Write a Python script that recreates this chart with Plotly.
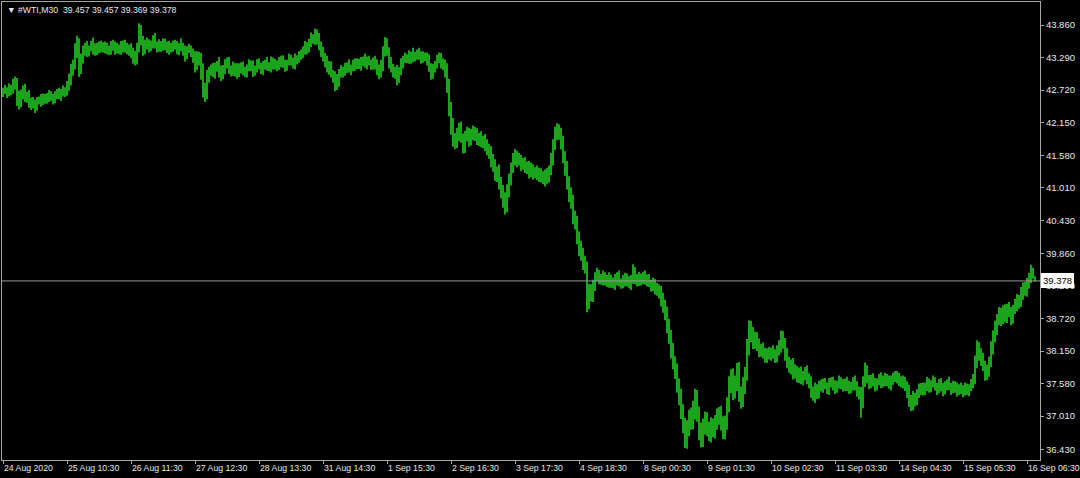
import plotly.graph_objects as go

# ---------------- data ----------------
symbol_header = "▼ #WTI,M30  39.457 39.457 39.369 39.378"
last_price = 39.378
first_open = 42.68

closes = [
    42.70, 42.72, 42.68, 42.74, 42.71, 42.80, 42.88, 42.62, 42.50, 42.66,
    42.72, 42.58, 42.64, 42.52, 42.47, 42.50, 42.44, 42.52, 42.55, 42.53,
    42.58, 42.60, 42.56, 42.62, 42.60, 42.57, 42.63, 42.66, 42.61, 42.68,
    42.72, 42.70, 42.78, 42.90, 43.05, 43.15, 43.40, 43.55, 43.10, 43.25,
    43.42, 43.48, 43.38, 43.45, 43.50, 43.44, 43.40, 43.47, 43.52, 43.46,
    43.43, 43.49, 43.45, 43.41, 43.46, 43.50, 43.44, 43.47, 43.42, 43.48,
    43.52, 43.45, 43.40, 43.47, 43.38, 43.30, 43.25, 43.45, 43.78, 43.60,
    43.40, 43.50, 43.56, 43.48, 43.52, 43.58, 43.50, 43.46, 43.53, 43.49,
    43.55, 43.47, 43.44, 43.50, 43.46, 43.52, 43.48, 43.43, 43.47, 43.50,
    43.40, 43.33, 43.42, 43.45, 43.38, 43.30, 43.15, 43.32, 43.25, 43.05,
    42.75, 42.70, 42.95, 43.05, 43.10, 43.02, 43.12, 43.18, 43.05, 42.98,
    43.08, 43.15, 43.22, 43.10, 43.04, 43.12, 43.06, 43.00, 43.09, 43.14,
    43.08, 43.02, 43.10, 43.16, 43.12, 43.05, 43.10, 43.18, 43.13, 43.08,
    43.15, 43.20, 43.14, 43.10, 43.18, 43.22, 43.16, 43.12, 43.20, 43.25,
    43.18, 43.14, 43.20, 43.26, 43.22, 43.18, 43.24, 43.28, 43.30, 43.35,
    43.42, 43.48, 43.45, 43.55, 43.62, 43.58, 43.70, 43.62, 43.50, 43.40,
    43.30, 43.22, 43.10, 43.15, 43.02, 42.95, 42.82, 42.92, 43.02, 43.08,
    43.04, 43.10, 43.14, 43.08, 43.12, 43.18, 43.14, 43.20, 43.16, 43.22,
    43.26, 43.18, 43.24, 43.20, 43.15, 43.22, 43.18, 43.10, 43.02, 43.15,
    43.38, 43.55, 43.40, 43.20, 43.10, 43.02, 43.08, 42.92, 43.05, 43.18,
    43.25, 43.30, 43.26, 43.32, 43.28, 43.34, 43.30, 43.36, 43.32, 43.28,
    43.33, 43.30, 43.25, 43.12, 43.02, 43.10, 43.18, 43.24, 43.30, 43.20,
    43.15, 43.05, 42.80, 42.40, 42.10, 41.85, 41.80, 41.95, 42.05, 41.88,
    41.72, 41.90, 41.98, 41.85, 41.92, 42.00, 41.94, 41.86, 41.90, 41.80,
    41.84, 41.76, 41.70, 41.62, 41.50, 41.40, 41.25, 41.30, 41.10, 40.95,
    40.80, 40.70, 40.95, 41.15, 41.35, 41.50, 41.58, 41.48, 41.52, 41.40,
    41.45, 41.35, 41.40, 41.28, 41.34, 41.25, 41.30, 41.22, 41.28, 41.20,
    41.15, 41.25, 41.18, 41.30, 41.50, 41.75, 41.95, 42.02, 41.95, 41.80,
    41.55, 41.35, 41.10, 40.90, 40.75, 40.50, 40.40, 40.15, 39.95, 39.85,
    39.70, 39.62, 39.00, 39.20, 39.15, 39.30, 39.45, 39.50, 39.42, 39.38,
    39.46, 39.40, 39.34, 39.42, 39.36, 39.30, 39.40, 39.48, 39.35, 39.32,
    39.38, 39.44, 39.36, 39.30, 39.40, 39.55, 39.42, 39.36, 39.44, 39.40,
    39.46, 39.38, 39.42, 39.35, 39.30, 39.34, 39.26, 39.22, 39.18, 39.05,
    38.95, 38.80, 38.60, 38.40, 38.15, 37.95, 37.80, 37.55, 37.35, 37.10,
    36.85, 36.60, 36.80, 37.00, 36.90, 37.10, 37.35, 37.05, 36.75, 36.60,
    36.85, 36.95, 36.80, 36.70, 36.85, 36.78, 36.90, 37.00, 37.05, 36.88,
    36.75, 36.90, 37.20, 37.55, 37.70, 37.45, 37.60, 37.80, 37.40, 37.30,
    37.55, 37.75, 38.20, 38.55, 38.45, 38.30, 38.38, 38.25, 38.15, 38.20,
    38.10, 38.05, 38.12, 38.08, 38.14, 38.10, 38.05, 38.15, 38.22, 38.40,
    38.30, 38.10, 37.95, 37.85, 37.92, 37.75, 37.82, 37.70, 37.78, 37.65,
    37.72, 37.80, 37.68, 37.60, 37.45, 37.38, 37.50, 37.42, 37.55, 37.52,
    37.60, 37.55, 37.48, 37.58, 37.62, 37.54, 37.50, 37.56, 37.64, 37.58,
    37.52, 37.60, 37.55, 37.48, 37.56, 37.62, 37.54, 37.46, 37.40, 37.25,
    37.60, 37.80, 37.65, 37.58, 37.66, 37.60, 37.54, 37.62, 37.68, 37.58,
    37.64, 37.70, 37.62, 37.56, 37.64, 37.70, 37.66, 37.72, 37.64, 37.58,
    37.62, 37.55, 37.45, 37.30, 37.22, 37.35, 37.28, 37.40, 37.48, 37.52,
    37.45, 37.55, 37.60, 37.50, 37.56, 37.62, 37.54, 37.48, 37.58, 37.52,
    37.46, 37.54, 37.60, 37.52, 37.48, 37.55, 37.50, 37.45, 37.52, 37.48,
    37.44, 37.50, 37.46, 37.52, 37.58, 37.65, 37.95, 38.20, 38.10, 38.00,
    37.90, 37.75, 37.80, 37.95, 38.20, 38.40, 38.55, 38.70, 38.80, 38.70,
    38.85, 38.75, 38.90, 38.82, 38.70, 38.88, 38.95, 39.05, 39.00, 39.15,
    39.25, 39.20, 39.35, 39.42, 39.58, 39.457, 39.378,
]

# upper wick (high above the bar body), in cents
upper_wick_cents = [
    6, 9, 5, 10, 7, 12, 8, 5, 9, 7, 8, 11, 5, 8, 7, 10, 5, 8, 6, 10,
    8, 5, 7, 10, 8, 5, 7, 8, 10, 6, 8, 5, 10, 11, 13, 10, 14, 12, 8, 11,
    8, 7, 10, 5, 8, 14, 10, 8, 5, 7, 10, 8, 6, 5, 12, 10, 7, 8, 5, 10,
    7, 8, 10, 5, 7, 8, 11, 10, 11, 8, 7, 10, 8, 5, 7, 10, 14, 7, 8, 5,
    8, 7, 10, 8, 5, 7, 8, 10, 7, 13, 5, 10, 7, 8, 5, 7, 10, 8, 7, 12,
    14, 10, 12, 8, 7, 10, 8, 5, 12, 10, 8, 11, 7, 8, 5, 10, 7, 13, 10, 7,
    8, 5, 7, 10, 8, 12, 5, 8, 10, 7, 8, 5, 10, 7, 13, 7, 5, 8, 10, 7,
    8, 7, 5, 10, 8, 7, 12, 5, 10, 8, 7, 10, 8, 7, 11, 8, 10, 8, 10, 7,
    8, 7, 10, 8, 7, 5, 10, 8, 7, 8, 5, 10, 7, 12, 5, 7, 10, 8, 7, 8,
    5, 10, 7, 8, 5, 7, 10, 8, 7, 10, 11, 10, 8, 7, 10, 8, 5, 8, 7, 10,
    7, 8, 5, 10, 7, 12, 5, 7, 10, 8, 7, 5, 8, 10, 7, 8, 5, 10, 8, 7,
    8, 10, 14, 12, 11, 13, 12, 11, 10, 12, 8, 11, 10, 8, 12, 10, 8, 11, 7, 10,
    8, 11, 10, 8, 12, 10, 11, 8, 12, 10, 11, 13, 12, 11, 10, 12, 11, 8, 10, 7,
    8, 10, 7, 8, 11, 8, 7, 10, 8, 7, 10, 8, 11, 10, 12, 11, 13, 12, 10, 11,
    12, 10, 13, 11, 12, 14, 11, 12, 10, 13, 11, 12, 10, 13, 12, 10, 8, 11, 7, 8,
    10, 7, 8, 11, 7, 8, 10, 5, 8, 7, 10, 8, 7, 10, 8, 12, 7, 8, 10, 7,
    8, 10, 7, 8, 5, 10, 7, 8, 10, 11, 12, 10, 13, 11, 12, 14, 11, 13, 12, 14,
    12, 13, 14, 12, 16, 18, 14, 12, 13, 15, 12, 14, 13, 11, 14, 12, 13, 15, 12, 14,
    13, 12, 14, 16, 13, 15, 12, 14, 16, 13, 14, 12, 16, 14, 13, 12, 11, 10, 12, 8,
    10, 11, 8, 10, 7, 11, 8, 10, 12, 11, 10, 8, 11, 10, 8, 11, 10, 7, 8, 10,
    8, 7, 10, 8, 11, 8, 10, 7, 8, 10, 7, 8, 5, 10, 7, 8, 10, 7, 8, 5,
    8, 7, 10, 8, 5, 7, 10, 8, 7, 12, 11, 15, 10, 8, 7, 10, 8, 5, 7, 10,
    8, 7, 5, 10, 8, 7, 10, 8, 5, 7, 10, 8, 7, 11, 8, 10, 7, 8, 10, 7,
    8, 5, 10, 7, 8, 10, 7, 5, 8, 10, 7, 8, 5, 10, 7, 8, 7, 10, 5, 8,
    7, 10, 8, 5, 8, 10, 12, 14, 11, 10, 12, 8, 11, 10, 12, 11, 13, 10, 12, 11,
    10, 12, 8, 11, 10, 8, 11, 10, 8, 12, 10, 11, 8, 10, 8, 3, 0,
]

# lower wick (low below the bar body), in cents
lower_wick_cents = [
    8, 5, 10, 7, 8, 5, 7, 18, 12, 8, 10, 7, 8, 11, 10, 7, 12, 8, 5, 10,
    7, 10, 8, 5, 7, 10, 8, 7, 5, 8, 7, 10, 8, 7, 10, 8, 7, 12, 15, 10,
    7, 10, 8, 7, 5, 10, 8, 7, 10, 8, 5, 7, 10, 8, 7, 5, 10, 8, 7, 8,
    10, 7, 5, 8, 10, 12, 10, 8, 7, 10, 8, 5, 7, 10, 8, 7, 5, 8, 7, 10,
    8, 5, 7, 10, 8, 7, 5, 8, 10, 7, 8, 11, 7, 5, 8, 10, 12, 8, 10, 15,
    16, 19, 14, 10, 8, 7, 10, 8, 11, 10, 7, 8, 5, 10, 8, 7, 10, 8, 5, 8,
    10, 7, 8, 5, 7, 10, 8, 7, 5, 8, 10, 7, 8, 5, 7, 10, 8, 7, 5, 8,
    7, 10, 8, 5, 7, 8, 10, 7, 8, 5, 7, 8, 10, 7, 8, 5, 7, 10, 8, 10,
    8, 10, 7, 11, 8, 10, 12, 10, 14, 8, 10, 7, 8, 5, 10, 7, 8, 5, 7, 10,
    8, 7, 10, 5, 8, 7, 10, 12, 11, 8, 10, 7, 8, 10, 7, 8, 10, 12, 8, 7,
    8, 5, 7, 8, 10, 7, 8, 5, 7, 10, 8, 7, 10, 8, 12, 10, 7, 8, 5, 10,
    8, 11, 13, 14, 16, 12, 11, 10, 12, 8, 11, 10, 8, 12, 10, 8, 11, 10, 12, 8,
    10, 11, 12, 10, 13, 11, 12, 14, 12, 13, 14, 16, 12, 11, 10, 8, 10, 11, 8, 10,
    7, 8, 10, 11, 8, 10, 7, 8, 11, 10, 8, 12, 10, 8, 7, 10, 8, 11, 10, 12,
    11, 13, 12, 14, 11, 13, 12, 13, 14, 12, 13, 11, 17, 12, 13, 14, 10, 8, 10, 7,
    8, 10, 7, 8, 10, 5, 8, 10, 7, 8, 7, 10, 8, 5, 8, 7, 10, 8, 7, 10,
    8, 7, 10, 8, 11, 10, 12, 10, 11, 12, 13, 11, 14, 12, 13, 12, 14, 13, 15, 14,
    14, 15, 16, 14, 13, 12, 15, 14, 16, 14, 13, 16, 14, 13, 15, 14, 16, 13, 14, 12,
    14, 15, 13, 12, 14, 16, 13, 15, 14, 16, 13, 15, 12, 13, 14, 12, 11, 10, 11, 10,
    8, 10, 11, 8, 10, 8, 11, 10, 8, 10, 11, 12, 10, 8, 11, 10, 8, 10, 11, 8,
    10, 8, 11, 10, 12, 10, 14, 11, 10, 8, 10, 7, 8, 10, 7, 8, 10, 8, 7, 10,
    8, 7, 10, 8, 7, 10, 8, 11, 10, 27, 10, 8, 7, 10, 8, 7, 10, 8, 7, 8,
    7, 10, 8, 7, 10, 8, 5, 8, 10, 7, 8, 10, 12, 13, 12, 11, 10, 8, 7, 10,
    8, 7, 10, 8, 7, 5, 8, 10, 7, 8, 10, 7, 8, 5, 10, 7, 8, 10, 7, 8,
    10, 7, 8, 10, 7, 8, 8, 10, 12, 11, 10, 12, 11, 10, 8, 11, 10, 12, 10, 11,
    8, 10, 11, 8, 10, 7, 8, 10, 11, 8, 10, 8, 10, 11, 8, 4, 0.9,
]

# time-axis labels and the bar each one marks
date_labels = [
    "24 Aug 2020", "25 Aug 10:30", "26 Aug 11:30", "27 Aug 12:30",
    "28 Aug 13:30", "31 Aug 14:30", "1 Sep 15:30", "2 Sep 16:30",
    "3 Sep 17:30", "4 Sep 18:30", "8 Sep 00:30", "9 Sep 01:30",
    "10 Sep 02:30", "11 Sep 03:30", "14 Sep 04:30", "15 Sep 05:30",
    "16 Sep 06:30",
]
date_label_bars = [0, 32, 64, 96, 128, 160, 192, 224, 256, 288, 320,
                   352, 384, 416, 448, 480, 512]

price_tick_labels = ["43.860", "43.290", "42.720", "42.150", "41.580",
                     "41.010", "40.430", "39.860", "39.290", "38.720",
                     "38.150", "37.580", "37.010", "36.430"]

# ---------------- build OHLC table ----------------
n = min(len(closes), len(upper_wick_cents), len(lower_wick_cents))
closes = closes[:n]
opens = [first_open] + closes[:-1]
highs = [max(o, c) + u / 100.0 for o, c, u in zip(opens, closes, upper_wick_cents)]
lows = [min(o, c) - w / 100.0 for o, c, w in zip(opens, closes, lower_wick_cents)]
bars = list(range(n))

BAR_COLOR = "#24cc24"
FRAME = "#a8a8a8"
TEXT = "#e8e8e8"
FONT = "Liberation Sans"
FS_Y = 9.5
FS_X = 8.7

fig = go.Figure()
fig.add_trace(go.Ohlc(
    x=bars, open=opens, high=highs, low=lows, close=closes,
    increasing=dict(line=dict(color=BAR_COLOR, width=1.6)),
    decreasing=dict(line=dict(color=BAR_COLOR, width=1.6)),
    tickwidth=0.25, hoverinfo="skip", showlegend=False,
))

# current price line
fig.add_shape(type="line", xref="paper", yref="y", x0=0, x1=1,
              y0=last_price, y1=last_price,
              line=dict(color="#9a9a9a", width=1))

fig.add_annotation(xref="paper", yref="y", x=1, y=last_price,
                   xanchor="left", yanchor="middle", xshift=1,
                   text=f"{last_price:.3f}", showarrow=False,
                   bgcolor="#ffffff", bordercolor="#ffffff", borderpad=1,
                   font=dict(family=FONT, size=FS_Y, color="#000000"))

fig.add_annotation(xref="paper", yref="paper", x=0, y=1,
                   xanchor="left", yanchor="top", xshift=3, yshift=-1,
                   text=symbol_header, showarrow=False,
                   font=dict(family=FONT, size=FS_X, color=TEXT))

fig.update_layout(
    width=1080, height=478,
    margin=dict(l=2, r=40, t=2, b=18, autoexpand=False),
    paper_bgcolor="#000000", plot_bgcolor="#000000",
    font=dict(family=FONT, size=FS_Y, color=TEXT),
    hovermode=False, dragmode=False,
    xaxis=dict(
        range=[-0.5, n + 1.5],
        tickmode="array", tickvals=date_label_bars, ticktext=date_labels,
        ticklabelposition="outside right", tickangle=0,
        ticklabeloverflow="allow",
        automargin=False,
        showgrid=False, zeroline=False,
        showline=True, linecolor=FRAME, linewidth=1, mirror=True,
        ticks="outside", ticklen=3, tickcolor=FRAME,
        rangeslider=dict(visible=False),
        tickfont=dict(family=FONT, size=FS_X, color=TEXT),
        fixedrange=True,
    ),
    yaxis=dict(
        side="right",
        range=[36.242, 44.263],
        tickmode="array",
        tickvals=[float(t) for t in price_tick_labels],
        ticktext=price_tick_labels,
        automargin=False,
        showgrid=False, zeroline=False,
        showline=True, linecolor=FRAME, linewidth=1, mirror=True,
        ticks="outside", ticklen=3, tickcolor=FRAME,
        tickfont=dict(family=FONT, size=FS_Y, color=TEXT),
        fixedrange=True,
    ),
)

fig.write_html(
    "out.html",
    config={"displayModeBar": False},
    post_script="document.body.style.margin='0px';document.body.style.background='#000';",
)
